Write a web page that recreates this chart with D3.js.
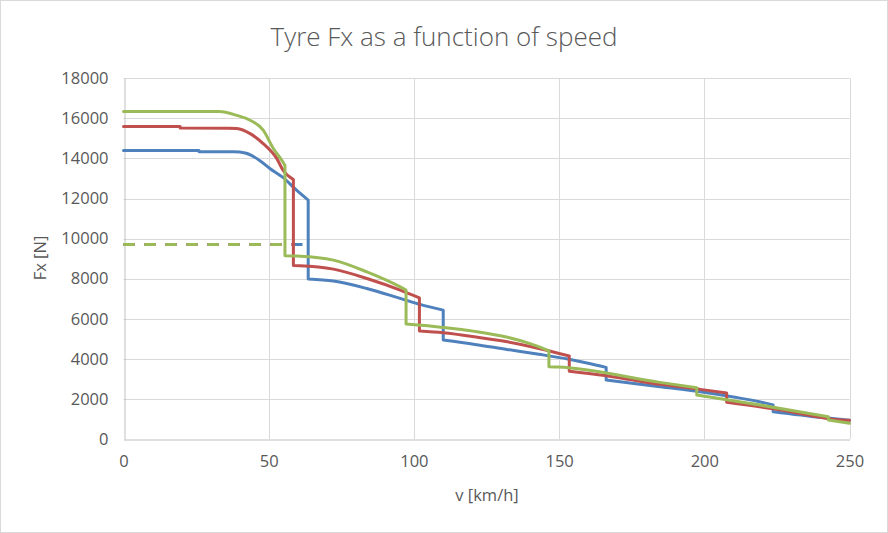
<!DOCTYPE html>
<html><head><meta charset="utf-8">
<script src="https://cdn.jsdelivr.net/npm/d3@7"></script>
<style>body{margin:0;background:#fff}svg{display:block}text{font-family:"Open Sans",sans-serif;fill:#595959}</style>
</head><body><div id="chart"></div>
<script>
// ---- data ----
const xTicks = [0, 50, 100, 150, 200, 250];
const yTicks = [0, 2000, 4000, 6000, 8000, 10000, 12000, 14000, 16000, 18000];

const speedBlue = [0,26,26,38,41.9,46.5,50.5,55.0,59.6,63.6, 63.6,72.3,83.8,95.3,102.1,110.1, 110.1,121,132,143,153,160,166.2, 166.2,184.7,198.6,210,219,223.7, 223.7,240,250];
const fxBlue    = [14400,14400,14340,14330,14270,13940,13490,13040,12415,11920, 7980,7880,7510,7015,6716,6430, 4936,4720,4470,4230,3990,3780,3570, 2942,2610,2360,2100,1860,1700, 1362,1080,930];

const speedRed = [0,19.5,19.5,36,39.0,43.6,48.1,52.8,55.0,58.5, 58.5,60.8,72.3,83.8,95.3,101.9, 101.9,110.1,121,132.2,143,153.5, 153.5,165,175,184.7,198.6,207.7, 207.7,224.3,247.3,250];
const fxRed    = [15600,15600,15520,15510,15490,15240,14740,13990,13400,12950, 8660,8650,8476,8010,7430,7045, 5385,5300,5100,4850,4520,4140, 3380,3180,2950,2727,2477,2300, 1830,1496,947,930];

const speedGreen = [0,33,39.0,43.6,48.1,51.6,55.0,55.6, 55.6,60.8,72.3,83.8,95.3,97.3, 97.3,110.1,121,132.2,140,146.5, 146.5,149.7,184.7,197.4, 197.4,219.2,242.7, 242.7,250];
const fxGreen    = [16340,16340,16150,15910,15410,14500,13800,13650, 9140,9125,8925,8340,7590,7430, 5734,5566,5370,5080,4760,4400, 3605,3590,2825,2560, 2194,1695,1112, 947,783];

// dashed limit lines
const dashLevel = 9700;
const dashEndBlue = 62, dashEndRed = 59, dashEndGreen = 56;

const colors = {blue:"#4F81BD", red:"#C0504D", green:"#9BBB59"};

// ---- chart ----
const W = 888, H = 533;
const svg = d3.select("#chart").append("svg").attr("width", W).attr("height", H);
svg.append("rect").attr("x",0.5).attr("y",0.5).attr("width",W-1).attr("height",H-1)
   .attr("fill","#fff").attr("stroke","#D9D9D9");

const x = d3.scaleLinear().domain([0,250]).range([123.5,849.5]);
const y = d3.scaleLinear().domain([0,18000]).range([439,78.3]);

// gridlines
svg.append("g").selectAll("line").data(yTicks.slice(1)).join("line")
  .attr("x1",x(0)).attr("x2",x(250)).attr("y1",d=>Math.round(y(d))+0.5).attr("y2",d=>Math.round(y(d))+0.5)
  .attr("stroke","#D9D9D9").attr("stroke-width",1);
svg.append("g").selectAll("line").data(xTicks.slice(1)).join("line")
  .attr("y1",y(0)).attr("y2",y(18000)).attr("x1",d=>Math.round(x(d))+0.5).attr("x2",d=>Math.round(x(d))+0.5)
  .attr("stroke","#D9D9D9").attr("stroke-width",1);

// axes
const xAxis = d3.axisBottom(x).tickValues(xTicks).tickSize(0).tickPadding(16);
const gx = svg.append("g").attr("transform",`translate(0,${Math.round(y(0))+0.5})`).call(xAxis);
gx.select(".domain").attr("stroke","#BFBFBF");
gx.selectAll("text").attr("font-size","16.5px").attr("fill","#595959").style("font-family",'"Open Sans",sans-serif');

const yAxis = d3.axisLeft(y).tickValues(yTicks).tickSize(0).tickPadding(16).tickFormat(d3.format("d"));
const gy = svg.append("g").attr("transform",`translate(${Math.round(x(0))+0.5},0)`).call(yAxis);
gy.select(".domain").attr("stroke","#BFBFBF");
gy.selectAll("text").attr("font-size","16.5px").attr("fill","#595959").style("font-family",'"Open Sans",sans-serif');

// series: smooth within each gear segment, straight vertical drops between them
const segLine = d3.line().x(d=>x(d[0])).y(d=>y(d[1])).curve(d3.curveMonotoneX);
function seriesPath(vs, fs){
  const pts = vs.map((v,i)=>[v,fs[i]]);
  const segs = [[pts[0]]];
  for (let i=1;i<pts.length;i++){
    if (pts[i][0] === pts[i-1][0]) segs.push([pts[i]]);
    else segs[segs.length-1].push(pts[i]);
  }
  return segs.map((s,k)=>{
    const d = s.length>1 ? segLine(s) : `M${x(s[0][0])},${y(s[0][1])}`;
    return k===0 ? d : "L" + d.slice(1);
  }).join("");
}
function drawSeries(vs, fs, color){
  svg.append("path").attr("d",seriesPath(vs,fs))
    .attr("fill","none").attr("stroke",color).attr("stroke-width",3)
    .attr("stroke-linejoin","round").attr("stroke-linecap","round");
}
const line = d3.line().x(d=>x(d[0])).y(d=>y(d[1]));
function drawDash(end, color){
  svg.append("path").datum([[0,dashLevel],[end,dashLevel]]).attr("d",line)
    .attr("fill","none").attr("stroke",color).attr("stroke-width",3)
    .attr("stroke-dasharray","11,10");
}
drawDash(dashEndBlue, colors.blue);
drawDash(dashEndRed, colors.red);
drawDash(dashEndGreen, colors.green);
drawSeries(speedBlue, fxBlue, colors.blue);
drawSeries(speedRed, fxRed, colors.red);
drawSeries(speedGreen, fxGreen, colors.green);

// titles
svg.append("text").attr("x",444).attr("y",46).attr("text-anchor","middle")
  .attr("font-size","26px").style("font-weight",300).text("Tyre Fx as a function of speed");
svg.append("text").attr("x",487).attr("y",501).attr("text-anchor","middle")
  .attr("font-size","16.5px").text("v [km/h]");
svg.append("text").attr("transform","translate(46,258) rotate(-90)").attr("text-anchor","middle")
  .attr("font-size","16.5px").text("Fx [N]");
</script></body></html>
